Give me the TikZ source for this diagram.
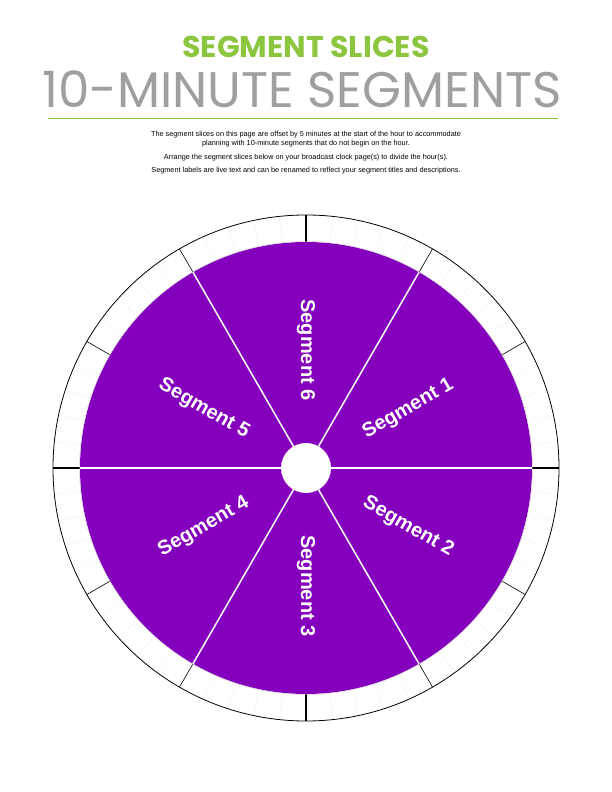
\documentclass[tikz,border=0pt]{standalone}
\usepackage{fontspec}
\setmainfont{Liberation Sans}
\newfontfamily\titlefont{Poppins}
\usetikzlibrary{positioning,calc}
\definecolor{slicepurple}{RGB}{132,0,189}
\definecolor{titlegreen}{RGB}{140,198,63}
\tikzset{
  seglabel/.style={text=white, font=\bfseries\fontsize{20}{20}\selectfont},
  infotext/.style={font=\fontsize{7.3}{9}\selectfont, align=center},
  minutetick/.style={gray!40, dotted, line width=0.5pt},
  fivetick/.style={black, line width=0.6pt},
  hourtick/.style={black, line width=1.2pt}
}
\begin{document}
\begin{tikzpicture}[x=1pt,y=1pt]
  \useasboundingbox (0,0) rectangle (612,792);
  \coordinate (c) at (306,324);

  % titles
  \node[text=titlegreen, font=\titlefont\bfseries\fontsize{30}{30}\selectfont, inner sep=0pt] (title) at (306,745) {SEGMENT SLICES};
  \node[text=gray!75, font=\titlefont\fontsize{50}{50}\selectfont, inner sep=0pt] (subtitle) at (302,703) {10-MINUTE SEGMENTS};
  \coordinate (ruleL) at (48,674);
  \coordinate (ruleR) at (558,674);
  \draw[titlegreen, line width=0.8pt] (ruleL) -- (ruleR);

  \node[infotext] (info1) at (306,653) {The segment slices on this page are offset by 5 minutes at the start of the hour to accommodate\\planning with 10-minute segments that do not begin on the hour.};
  \node[infotext, below=0pt of info1] (info2) {Arrange the segment slices below on your broadcast clock page(s) to divide the hour(s).};
  \node[infotext, below=-1pt of info2] (info3) {Segment labels are live text and can be renamed to reflect your segment titles and descriptions.};

  % clock ring
  \foreach \m in {0,...,59}
    \draw[minutetick] ($(c)+(\m*6:226)$) -- ($(c)+(\m*6:253)$);
  \foreach \a in {30,60,...,360}
    \draw[fivetick] ($(c)+(\a:226)$) -- ($(c)+(\a:253)$);
  \foreach \a in {0,90,180,270}
    \draw[hourtick] ($(c)+(\a:226)$) -- ($(c)+(\a:253)$);
  \draw[black, line width=0.8pt] (c) circle (253);

  % slices
  \fill[slicepurple] (c) circle (226);
  \draw[gray!40, line width=0.4pt] (c) circle (226.5);
  \foreach \a in {0,60,...,300}
    \draw[white, line width=1.5pt] (c) -- ($(c)+(\a:226)$);
  \fill[white] (c) circle (25);

  % labels
  \node[seglabel, rotate=30] (seg1) at ($(c)+(30:118)$) {Segment 1};
  \node[seglabel, rotate=-30] (seg2) at ($(c)+(-30:118)$) {Segment 2};
  \node[seglabel, rotate=-90] (seg3) at ($(c)+(270:118)$) {Segment 3};
  \node[seglabel, rotate=30] (seg4) at ($(c)+(210:118)$) {Segment 4};
  \node[seglabel, rotate=-30] (seg5) at ($(c)+(150:118)$) {Segment 5};
  \node[seglabel, rotate=-90] (seg6) at ($(c)+(90:118)$) {Segment 6};
\end{tikzpicture}
\end{document}
